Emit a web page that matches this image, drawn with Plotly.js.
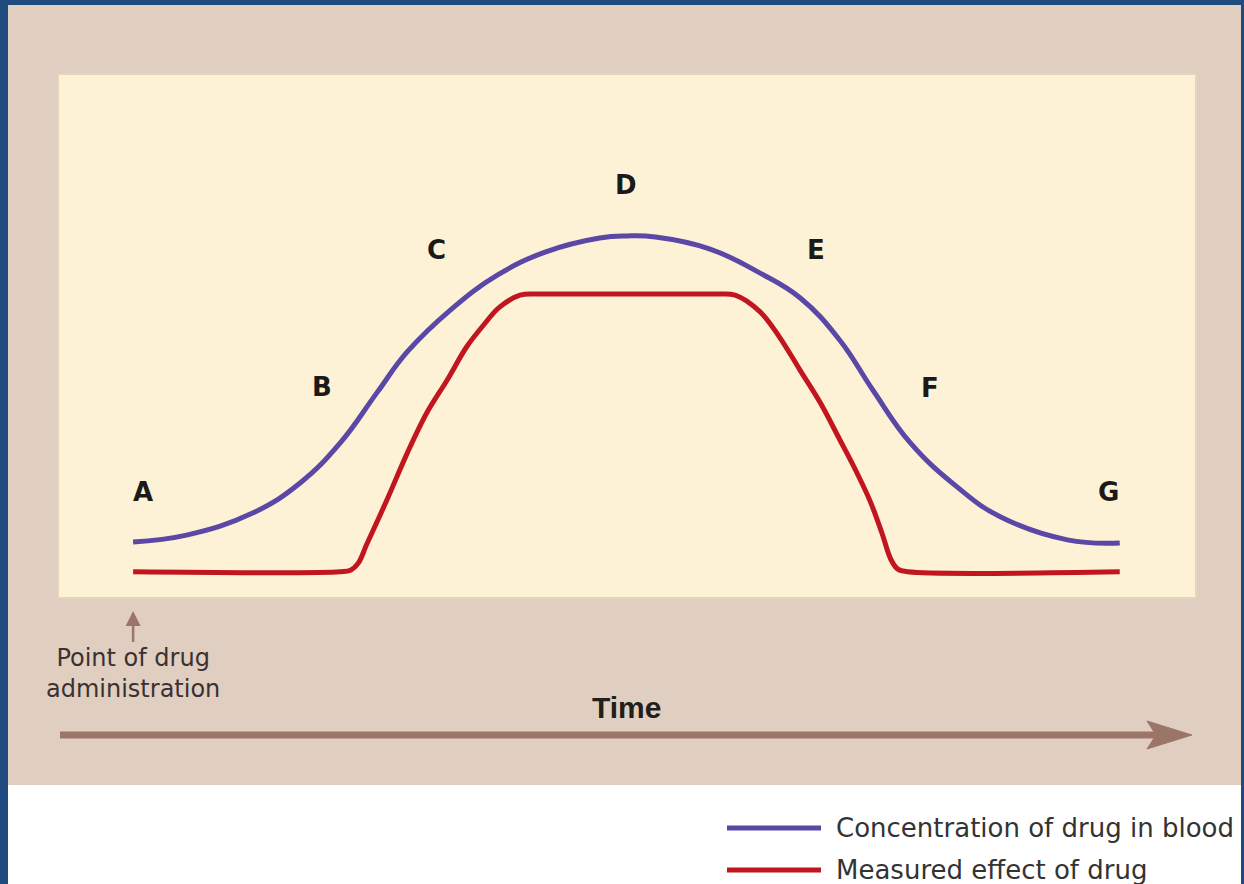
<!DOCTYPE html>
<html>
<head>
<meta charset="utf-8">
<script src="https://cdn.plot.ly/plotly-3.0.1.min.js"></script>
<style>
  html, body { margin: 0; padding: 0; background: #1f4a7f; overflow: hidden; }
  #chart { width: 1244px; height: 884px; }
</style>
</head>
<body>
<div id="chart"></div>
<script>
// ---- data (time in arbitrary units 0–100, level in arbitrary units 0–100) ----
const seriesNames = ["Concentration of drug in blood", "Measured effect of drug"];
const seriesColors = ["#5a47a6", "#c1161f"];

const concTime = [6.6, 11.3, 17.1, 21.3, 24.8, 28.0, 30.7, 34.5, 38.6, 42.8, 47.6, 50.0, 52.5, 57.3, 61.7, 65.2, 68.7, 71.6, 74.9, 79.0, 82.8, 88.7, 93.3];
const concLevel = [10.7, 12.0, 16.2, 22.0, 29.6, 39.1, 47.0, 55.0, 61.6, 66.0, 68.7, 69.1, 68.9, 66.6, 62.0, 57.3, 49.2, 39.7, 29.6, 21.2, 15.5, 11.1, 10.5];

const effectTime = [6.6, 24.8, 25.7, 26.4, 27.1, 28.9, 30.7, 32.4, 34.2, 35.9, 37.4, 38.8, 40.6, 42.4, 50.0, 57.7, 59.5, 61.7, 63.4, 65.2, 67.0, 68.7, 70.2, 71.4, 72.4, 73.2, 73.8, 74.7, 93.3];
const effectLevel = [5.0, 5.0, 5.3, 6.7, 10.1, 18.7, 27.7, 35.3, 41.6, 47.9, 52.1, 55.5, 57.8, 58.0, 58.0, 58.0, 57.8, 54.6, 49.8, 43.5, 37.2, 30.2, 23.9, 18.3, 12.4, 7.3, 5.5, 5.0, 5.0];

const phaseLabels = ["A", "B", "C", "D", "E", "F", "G"];
const axisLabel = "Time";
const startLabel = "Point of drug<br>administration";

// ---- layout helpers (pixel -> paper) ----
const W = 1244, H = 884;
const M = { l: 58, r: 48, t: 74, b: 286 };
const pw = W - M.l - M.r, ph = H - M.t - M.b;
const px = v => (v - M.l) / pw;
const py = v => (H - M.b - v) / ph;

// label placement (time, level) for phase letters
const phasePos = [[7.5, 20.2], [23.2, 40.3], [33.3, 66.4], [49.9, 78.8], [66.6, 66.4], [76.6, 40.1], [92.3, 20.2]];

const traces = [
  { x: concTime, y: concLevel, name: seriesNames[0], type: "scatter", mode: "lines",
    line: { color: seriesColors[0], width: 5, shape: "spline", smoothing: 1.2 }, hoverinfo: "skip" },
  { x: effectTime, y: effectLevel, name: seriesNames[1], type: "scatter", mode: "lines",
    line: { color: seriesColors[1], width: 5, shape: "spline", smoothing: 1.0 }, hoverinfo: "skip" }
];

const brown = "#9c7569";
const shapes = [
  { type: "rect", xref: "paper", yref: "paper", x0: px(8), x1: px(1241), y0: py(785), y1: py(5),
    fillcolor: "#e0cec0", line: { width: 0 }, layer: "below" },
  { type: "rect", xref: "paper", yref: "paper", x0: px(8), x1: px(1241), y0: py(900), y1: py(785),
    fillcolor: "#ffffff", line: { width: 0 }, layer: "below" },
  { type: "rect", xref: "paper", yref: "paper", x0: 0, x1: 1, y0: 0, y1: 1,
    fillcolor: "#fdf2d6", line: { color: "#e6d5bd", width: 2 }, layer: "below" },
  { type: "line", xref: "paper", yref: "paper", x0: px(60), x1: px(1160), y0: py(735), y1: py(735),
    line: { color: brown, width: 7 } },
  { type: "path", xref: "paper", yref: "paper",
    path: `M ${px(1192)} ${py(735)} L ${px(1147)} ${py(721)} L ${px(1156)} ${py(735)} L ${px(1147)} ${py(749)} Z`,
    fillcolor: brown, line: { color: brown, width: 1 } }
];

const annotations = phaseLabels.map((t, i) => ({
  text: "<b>" + t + "</b>", x: phasePos[i][0], y: phasePos[i][1], xref: "x", yref: "y",
  xanchor: "center", yanchor: "middle",
  showarrow: false, font: { family: "DejaVu Sans, sans-serif", size: 26, color: "#1c1a18" }
}));
annotations.push({
  text: "<b>" + axisLabel + "</b>", xref: "paper", yref: "paper", x: px(626), y: py(707),
  xanchor: "center", yanchor: "middle",
  showarrow: false, font: { family: "Liberation Sans, Arial, sans-serif", size: 30, color: "#221e1c" }
});
annotations.push({
  text: startLabel, xref: "x", yref: "paper", x: concTime[0], y: py(611),
  showarrow: true, ax: 0, ay: 31, xanchor: "center", yanchor: "top", arrowhead: 2, arrowsize: 1.2, arrowwidth: 2.5,
  arrowcolor: brown, standoff: 0, startstandoff: 0,
  font: { family: "DejaVu Sans, sans-serif", size: 24, color: "#3b3131" }
});

// manual legend (below the panel, in the white strip)
const legendRows = [828, 870];
seriesNames.forEach((name, i) => {
  shapes.push({ type: "line", xref: "paper", yref: "paper",
    x0: px(727), x1: px(821), y0: py(legendRows[i]), y1: py(legendRows[i]),
    line: { color: seriesColors[i], width: 5 } });
  annotations.push({ text: name, xref: "paper", yref: "paper", x: px(834), y: py(legendRows[i]),
    xanchor: "left", yanchor: "middle", showarrow: false,
    font: { family: "DejaVu Sans, sans-serif", size: 26, color: "#333" } });
});

const layout = {
  width: W, height: H,
  margin: M,
  paper_bgcolor: "#1f4a7f",
  plot_bgcolor: "rgba(0,0,0,0)",
  showlegend: false,
  xaxis: { range: [0, 100], visible: false, fixedrange: true },
  yaxis: { range: [0, 100], visible: false, fixedrange: true },
  shapes: shapes,
  annotations: annotations
};

Plotly.newPlot("chart", traces, layout, { displayModeBar: false, staticPlot: true });
</script>
</body>
</html>
